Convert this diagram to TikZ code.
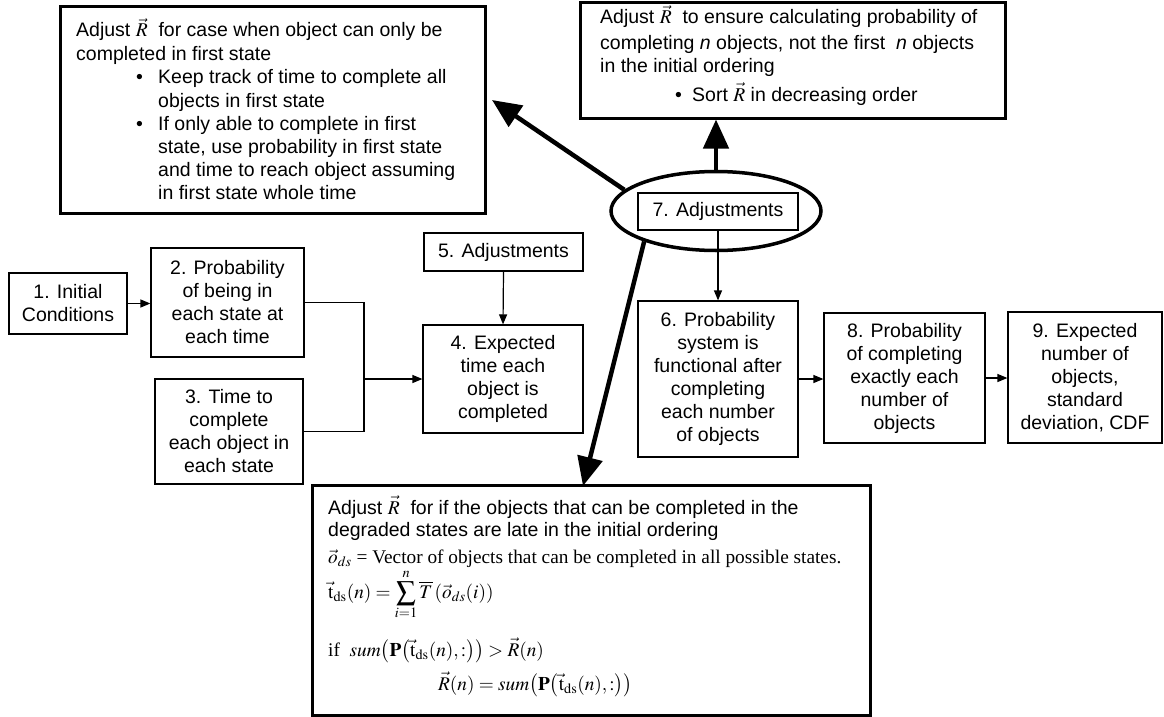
\documentclass[tikz,border=0pt]{standalone}
\usepackage{mathptmx}
\usepackage[no-math]{fontspec}
\setmainfont{Liberation Sans}
\newfontfamily\serif{Liberation Serif}
\usetikzlibrary{arrows.meta,shapes.geometric}

\newcommand{\Rv}{$\vec{R}$}
\newcommand{\tds}{\vec{\mathrm{t}}_{\mathrm{ds}}}

\begin{document}
\begin{tikzpicture}[x=1pt,y=-1pt,
  font=\fontsize{19.5}{23}\selectfont,
  box/.style={draw, line width=1.2pt, align=center, inner sep=0pt},
  bigbox/.style={draw, line width=3pt, inner sep=0pt},
  txt/.style={anchor=base west, inner sep=0pt},
  fml/.style={anchor=base west, inner sep=0pt, font=\serif\fontsize{19.3}{23}\selectfont},
  flow/.style={line width=1.2pt, -{Triangle[length=10pt,width=8pt]}},
  link/.style={line width=1.2pt},
  bold/.style={line width=4.5pt, -{Triangle[length=29pt,width=25pt]}}]

\fill[white] (0,0) rectangle (1164,717);
\useasboundingbox (0,0) rectangle (1164,717);

% flow boxes
\node[box, minimum width=118pt, minimum height=61pt]  (b1) at (68,303.5)   {1. Initial\\Conditions};
\node[box, minimum width=153pt, minimum height=109pt] (b2) at (227.5,302.5) {2. Probability\\of being in\\each state at\\each time};
\node[box, minimum width=148pt, minimum height=105pt] (b3) at (229,431.5)  {3. Time to\\complete\\each object in\\each state};
\node[box, minimum width=160pt, minimum height=108pt] (b4) at (503,379)    {4. Expected\\time each\\object is\\completed};
\node[box, minimum width=159pt, minimum height=38pt]  (b5) at (503.5,252)  {5. Adjustments};
\node[box, minimum width=160pt, minimum height=156pt] (b6) at (718,379)    {6. Probability\\system is\\functional after\\completing\\each number\\of objects};
\node[draw, ellipse, line width=3.5pt, inner sep=0pt, minimum width=210pt, minimum height=79pt] (ell) at (716,211) {};
\node[box, fill=white, minimum width=160pt, minimum height=37pt] (b7) at (718,211.5) {7. Adjustments};
\node[box, minimum width=161pt, minimum height=130pt] (b8) at (904.5,378)  {8. Probability\\of completing\\exactly each\\number of\\objects};
\node[box, minimum width=154pt, minimum height=131pt] (b9) at (1085,377.5) {9. Expected\\number of\\objects,\\standard\\deviation, CDF};

% adjustment detail boxes
\node[bigbox, minimum width=425pt, minimum height=206pt] (tl)  at (272.5,110) {};
\node[bigbox, minimum width=425pt, minimum height=115pt] (tr)  at (792.5,60.5) {};
\node[bigbox, minimum width=558pt, minimum height=230pt] (bot) at (591,600) {};

% text of the upper left box
\node[txt] (tl1) at (76,37)  {Adjust \Rv\ \ for case when object can only be};
\node[txt] (tl2) at (76,61)  {completed in first state};
\node[txt] (tlb1) at (136,84) {\textbullet};
\node[txt] (tl3) at (158,84)  {Keep track of time to complete all};
\node[txt] (tl4) at (158,107) {objects in first state};
\node[txt] (tlb2) at (136,130) {\textbullet};
\node[txt] (tl5) at (158,130) {If only able to complete in first};
\node[txt] (tl6) at (158,153) {state, use probability in first state};
\node[txt] (tl7) at (158,176) {and time to reach object assuming};
\node[txt] (tl8) at (158,199) {in first state whole time};

% text of the upper right box
\node[txt] (tr1) at (600,24)  {Adjust \Rv\ \ to ensure calculating probability of};
\node[txt] (tr2) at (600,49)  {completing \textit{n} objects, not the first\ \ \textit{n} objects};
\node[txt] (tr3) at (600,72)  {in the initial ordering};
\node[txt] (trb) at (675,101) {\textbullet};
\node[txt] (tr4) at (692,101) {Sort \Rv\ in decreasing order};

% text of the lower box
\node[txt] (bt1) at (328,514) {Adjust \Rv\ \ for if the objects that can be completed in the};
\node[txt] (bt2) at (328,536) {degraded states are late in the initial ordering};
\node[fml] (bf1) at (328,563) {$\vec{o}_{ds}$ = Vector of objects that can be completed in all possible states.};
\node[fml] (bf2) at (328,598) {$\displaystyle \tds(n)=\sum_{i=1}^{n}\overline{T}\left(\vec{o}_{ds}(i)\right)$};
\node[fml] (bf3) at (328,656) {if\ \ $sum\bigl(\mathbf{P}\bigl(\tds(n),:\bigr)\bigr)>\vec{R}(n)$};
\node[fml] (bf4) at (438,690) {$\vec{R}(n)=sum\bigl(\mathbf{P}\bigl(\tds(n),:\bigr)\bigr)$};

% flow connectors
\coordinate (jn) at (364,379);
\draw[flow] (b1.east) -- (b2.west |- b1.east);
\draw[link] (b2.east) -| (jn);
\draw[link] (b3.east) -| (jn);
\draw[flow] (jn) -- (b4.west);
\draw[flow] (b5.south) -- (b4.north);
\draw[flow] (b7.south) -- (b6.north);
\draw[flow] (b6.east) -- (b6.east -| b8.west);
\draw[flow] (b8.east) -- (b8.east -| b9.west);

% bold connectors from the adjustments ellipse
\coordinate (tlTip) at (492,100);
\coordinate (botTip) at (583,486);
\draw[bold] (ell.north) -- (ell.north |- tr.south);
\draw[bold] (ell.167) -- (tlTip);
\draw[bold] (ell.203) -- (botTip);
\end{tikzpicture}
\end{document}
